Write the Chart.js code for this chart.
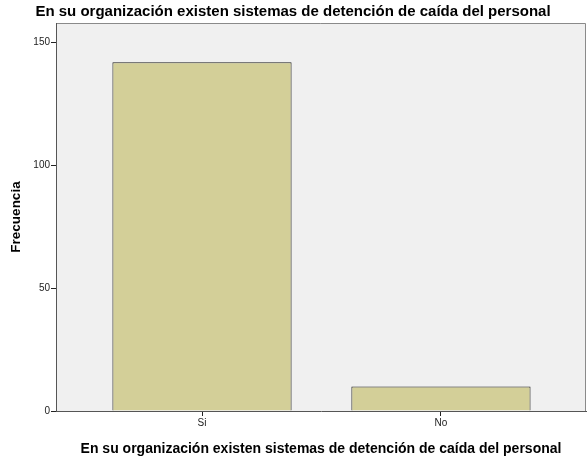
<!DOCTYPE html>
<html>
<head>
<meta charset="utf-8">
<script src="https://cdn.jsdelivr.net/npm/chart.js@4"></script>
<style>
html,body{margin:0;padding:0;background:#fff;}
#wrap{width:587px;height:464px;}
</style>
</head>
<body>
<div id="wrap"><canvas id="c" width="587" height="464"></canvas></div>
<script>
const chartTitle = "En su organización existen sistemas de detención de caída del personal";
const categories = ["Si", "No"];
const frequencies = [142, 10];
const yTicks = [0, 50, 100, 150];
const yAxisTitle = "Frecuencia";
const xAxisTitle = "En su organización existen sistemas de detención de caída del personal";

const FONT = "'Liberation Sans', Arial, sans-serif";

const plotBg = {
  id: 'plotBg',
  beforeDraw(chart) {
    const {ctx, chartArea: a} = chart;
    ctx.save();
    ctx.fillStyle = '#F0F0F0';
    ctx.fillRect(a.left, a.top, a.right - a.left, a.bottom - a.top);
    ctx.strokeStyle = '#8a8a8a';
    ctx.lineWidth = 1;
    ctx.beginPath();
    ctx.moveTo(a.left, a.top + 0.5);
    ctx.lineTo(a.right - 0.5, a.top + 0.5);
    ctx.lineTo(a.right - 0.5, a.bottom);
    ctx.stroke();
    ctx.restore();
  }
};

new Chart(document.getElementById('c'), {
  type: 'bar',
  data: {
    datasets: [{
      data: categories.map((c, i) => ({x: i, y: frequencies[i]})),
      backgroundColor: '#D3CF98',
      borderColor: '#1e1e1e',
      borderWidth: 1,
      barPercentage: 0.75,
      categoryPercentage: 1.0
    }]
  },
  plugins: [plotBg],
  options: {
    responsive: false,
    animation: false,
    devicePixelRatio: 1,
    layout: {padding: {left: 0, right: 1, top: 0, bottom: 0}},
    plugins: {
      legend: {display: false},
      tooltip: {enabled: false},
      title: {
        display: true,
        text: chartTitle,
        color: '#000',
        font: {family: FONT, size: 15, weight: 'bold'},
        padding: {top: 3, bottom: 2}
      }
    },
    scales: {
      x: {
        type: 'linear',
        offset: false,
        min: -0.611,
        max: 1.607,
        afterBuildTicks(scale) {
          scale.ticks = categories.map((c, i) => ({value: i}));
        },
        afterFit(scale) { scale.height = 53; },
        ticks: {
          callback: (v) => categories[v] !== undefined ? categories[v] : '',
          color: '#222',
          font: {family: FONT, size: 10},
          padding: 1,
          maxRotation: 0,
          autoSkip: false
        },
        grid: {
          offset: false,
          drawOnChartArea: false,
          drawTicks: true,
          tickLength: 5,
          color: '#222'
        },
        border: {display: true, color: '#555', width: 1},
        title: {
          display: true,
          text: xAxisTitle,
          color: '#000',
          font: {family: FONT, size: 14, weight: 'bold'},
          padding: {top: 4, bottom: 6}
        }
      },
      y: {
        min: 0,
        max: 158,
        afterBuildTicks(scale) {
          scale.ticks = yTicks.map(v => ({value: v}));
        },
        afterFit(scale) { scale.width = 56; },
        ticks: {
          color: '#222',
          font: {family: FONT, size: 10},
          padding: 1
        },
        grid: {
          drawOnChartArea: false,
          drawTicks: true,
          tickLength: 5,
          color: '#222'
        },
        border: {display: true, color: '#555', width: 1},
        title: {
          display: true,
          text: yAxisTitle,
          color: '#000',
          font: {family: FONT, size: 13.5, weight: 'bold'},
          padding: {top: 8, bottom: 8}
        }
      }
    }
  }
});
</script>
</body>
</html>
